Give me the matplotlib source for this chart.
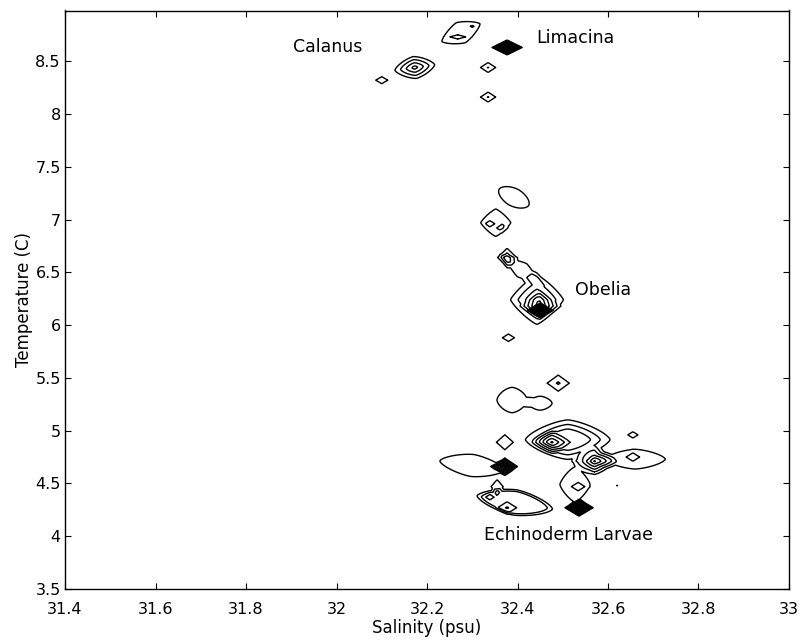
import numpy as np
import matplotlib
matplotlib.use("Agg")
import matplotlib.pyplot as plt

# ---- data: density peaks in salinity/temperature space ----
# centre salinity, centre temperature, peak height, half-widths (psu, C),
# shape exponent, tilt (deg), flat-core fraction
blob_s   = [32.173, 32.100, 32.275, 32.268, 32.300, 32.377, 32.335, 32.335,
            32.392, 32.352, 32.339, 32.366, 32.377, 32.410, 32.443, 32.450,
            32.450, 32.380, 32.490, 32.388, 32.450, 32.372, 32.372, 32.300,
            32.355, 32.394, 32.339, 32.377, 32.511, 32.476, 32.570, 32.655,
            32.660, 32.655, 32.534, 32.527, 32.536, 32.620]
blob_t   = [8.44, 8.32, 8.77, 8.73, 8.83, 8.63, 8.44, 8.16,
            7.21, 6.97, 6.96, 6.92, 6.64, 6.52, 6.24, 6.18,
            6.14, 5.88, 5.45, 5.29, 5.26, 4.89, 4.66, 4.67,
            4.47, 4.32, 4.37, 4.27, 4.915, 4.89, 4.71, 4.75,
            4.73, 4.96, 4.47, 4.49, 4.27, 4.48]
blob_amp = [4.5, 1.8, 1.7, 0.6, 0.45, 14, 2.1, 2.1,
            1.5, 1.8, 0.5, 0.5, 3.1, 1.6, 4.5, 3.0,
            10, 1.8, 2.2, 1.5, 1.4, 1.8, 8, 1.8,
            1.5, 2.5, 0.8, 1.7, 3.2, 4.0, 6, 1.0,
            1.5, 1.6, 1.0, 1.5, 12, 1.05]
blob_ws  = [0.057, 0.030, 0.066, 0.035, 0.012, 0.036, 0.032, 0.032,
            0.056, 0.046, 0.018, 0.020, 0.031, 0.064, 0.075, 0.050,
            0.030, 0.030, 0.045, 0.050, 0.041, 0.042, 0.032, 0.100,
            0.020, 0.096, 0.025, 0.030, 0.115, 0.050, 0.053, 0.030,
            0.100, 0.030, 0.030, 0.050, 0.034, 0.020]
blob_wt  = [0.134, 0.075, 0.147, 0.040, 0.030, 0.076, 0.090, 0.090,
            0.127, 0.180, 0.050, 0.060, 0.130, 0.110, 0.300, 0.150,
            0.075, 0.080, 0.140, 0.180, 0.103, 0.160, 0.092, 0.145,
            0.100, 0.137, 0.070, 0.080, 0.230, 0.120, 0.150, 0.080,
            0.140, 0.080, 0.080, 0.250, 0.087, 0.050]
blob_p   = [1.4, 1, 1.3, 1, 1, 1, 1, 1,
            1.8, 1.2, 1, 1, 1, 1.2, 1.2, 1,
            1, 1, 1, 1.6, 1.6, 1, 1, 1.5,
            1, 1.5, 1, 1, 1.4, 1.2, 1.3, 1,
            1.5, 1, 1, 1.3, 1, 1]
blob_ang = [8, 0, 25, 0, 0, 0, 0, 0,
            -28, 0, 0, 0, 0, -35, 0, 0,
            0, 0, 0, 0, 0, 0, 0, -8,
            0, -10, 0, 0, 0, 0, 0, 0,
            0, 0, 0, 0, 0, 0]
blob_core = [0, 0, 0.5, 0, 0, 0, 0, 0,
             0.5, 0.5, 0, 0, 0, 0.5, 0, 0,
             0, 0, 0, 0.5, 0.5, 0, 0, 0.5,
             0.5, 0.7, 0, 0, 0.4, 0, 0, 0,
             0.5, 0, 0, 0.5, 0, 0]

contour_levels = list(range(1, 16))

labels = ["Calanus", "Limacina", "Obelia", "Echinoderm Larvae"]
label_s = [31.98, 32.527, 32.589, 32.512]
label_t = [8.63, 8.72, 6.33, 4.01]

xticks = [31.4, 31.6, 31.8, 32, 32.2, 32.4, 32.6, 32.8, 33]
xticklabels = ["31.4", "31.6", "31.8", "32", "32.2", "32.4", "32.6", "32.8", "33"]
yticks = [3.5, 4, 4.5, 5, 5.5, 6, 6.5, 7, 7.5, 8, 8.5]
yticklabels = ["3.5", "4", "4.5", "5", "5.5", "6", "6.5", "7", "7.5", "8", "8.5"]

# ---- build field ----
ASPECT = 452.5 / 106.0   # screen scale of 1 psu relative to 1 C
S = np.linspace(31.4, 33.0, 801)
T = np.linspace(3.5, 9.0, 1101)
SS, TT = np.meshgrid(S, T)
Z = np.zeros_like(SS)
for s0, t0, a, ws, wt, p, ang, c in zip(blob_s, blob_t, blob_amp, blob_ws, blob_wt,
                                         blob_p, blob_ang, blob_core):
    x = (SS - s0) * ASPECT
    y = TT - t0
    th = np.deg2rad(ang)
    xr = x * np.cos(th) + y * np.sin(th)
    yr = -x * np.sin(th) + y * np.cos(th)
    u = xr / (ws * ASPECT)
    v = yr / wt
    r = (np.abs(u) ** p + np.abs(v) ** p) ** (1.0 / p)
    Z += a * np.clip((1 - r) / (1 - c), 0, 1)

fig = plt.figure(figsize=(8.02, 6.43), dpi=100)
ax = fig.add_axes([65 / 802, 1 - 589 / 643, (789 - 65) / 802, (589 - 10.5) / 643])
ax.contour(SS, TT, Z, levels=contour_levels, colors="k", linewidths=1.0)

for txt, s, t in zip(labels, label_s, label_t):
    ax.text(s, t, txt, ha="center", va="center", fontsize=12.5)

ax.set_xlim(31.4, 33.0)
ax.set_ylim(3.5, 8.98)
ax.set_xticks(xticks)
ax.set_xticklabels(xticklabels)
ax.set_yticks(yticks)
ax.set_yticklabels(yticklabels)
ax.tick_params(direction="in", length=4, width=0.8, top=True, right=True, labelsize=11.5)
ax.tick_params(axis="x", pad=9)
ax.tick_params(axis="y", pad=3)
for sp in ax.spines.values():
    sp.set_linewidth(1.0)
ax.set_xlabel("Salinity (psu)", fontsize=12, labelpad=2)
ax.set_ylabel("Temperature (C)", fontsize=12, labelpad=2)

fig.savefig("out.png", dpi=100)
